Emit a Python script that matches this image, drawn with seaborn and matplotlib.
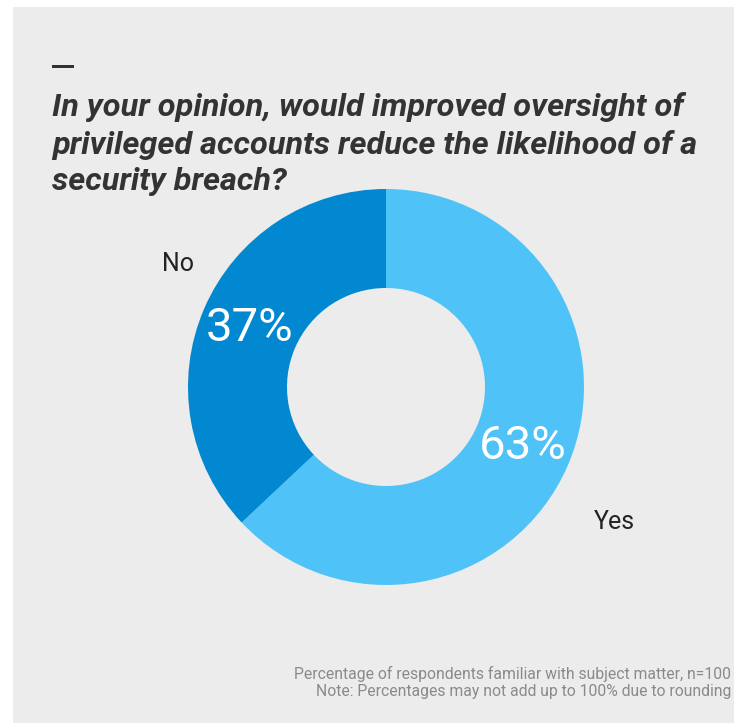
import numpy as np
import matplotlib
matplotlib.use("Agg")
import matplotlib.pyplot as plt
from matplotlib.patches import Rectangle
import seaborn as sns

# Survey answers and shares (percent)
answers = ["Yes", "No"]
shares = [63, 37]
slice_colors = ["#4fc3f7", "#0288d1"]

title = ("In your opinion, would improved oversight of\n"
         "privileged accounts reduce the likelihood of a\n"
         "security breach?")
footnote = ("Percentage of respondents familiar with subject matter, n=100\n"
            "Note: Percentages may not add up to 100% due to rounding")

sns.set_theme(style="white")
plt.rcParams["font.family"] = ["Roboto", "DejaVu Sans"]

W, H = 734, 723
fig = plt.figure(figsize=(W / 100, H / 100), dpi=100)
fig.patch.set_facecolor("white")

# light grey card behind everything
fig.add_artist(Rectangle((13 / W, 0), 1 - 13 / W, 1 - 7 / H,
                         transform=fig.transFigure, facecolor="#ececec",
                         edgecolor="none", zorder=0))

cx, cy, r = 386, 387, 198
ax = fig.add_axes([(cx - r) / W, (H - cy - r) / H, 2 * r / W, 2 * r / H])
ax.set_facecolor("none")

wedges, _, autotexts = ax.pie(
    shares, colors=slice_colors, startangle=90, counterclock=False,
    radius=1.0, wedgeprops=dict(width=0.5, edgecolor="none"),
    autopct=lambda p: f"{p:.0f}%", pctdistance=0.75,
    textprops=dict(color="white", fontsize=34),
)
ax.set_xlim(-1, 1)
ax.set_ylim(-1, 1)
ax.set_aspect("equal")
ax.axis("off")

# category names outside the ring
for w, name, dist in zip(wedges, answers, [1.34, 1.22]):
    ang = np.deg2rad((w.theta1 + w.theta2) / 2 - 7.3)
    ax.text(dist * np.cos(ang), dist * np.sin(ang), name, ha="center",
            va="center", fontsize=18, color="#222222", clip_on=False)

# short accent bar above the title
fig.add_artist(Rectangle((52 / W, 1 - 67.5 / H), 22 / W, 3 / H,
                         transform=fig.transFigure, facecolor="#333333",
                         edgecolor="none", zorder=2))
# multi-line text with va="baseline" sits on its last line's baseline
fig.text(52 / W, 1 - 190 / H, title, fontsize=23.4, fontweight="bold",
         fontstyle="italic", color="#333333", ha="left", va="baseline",
         linespacing=1.32)
fig.text(731 / W, 1 - 696 / H, footnote, fontsize=11.3, color="#8a8a8a",
         ha="right", va="baseline", linespacing=1.17)

fig.savefig("out.png", dpi=100, facecolor=fig.get_facecolor())
